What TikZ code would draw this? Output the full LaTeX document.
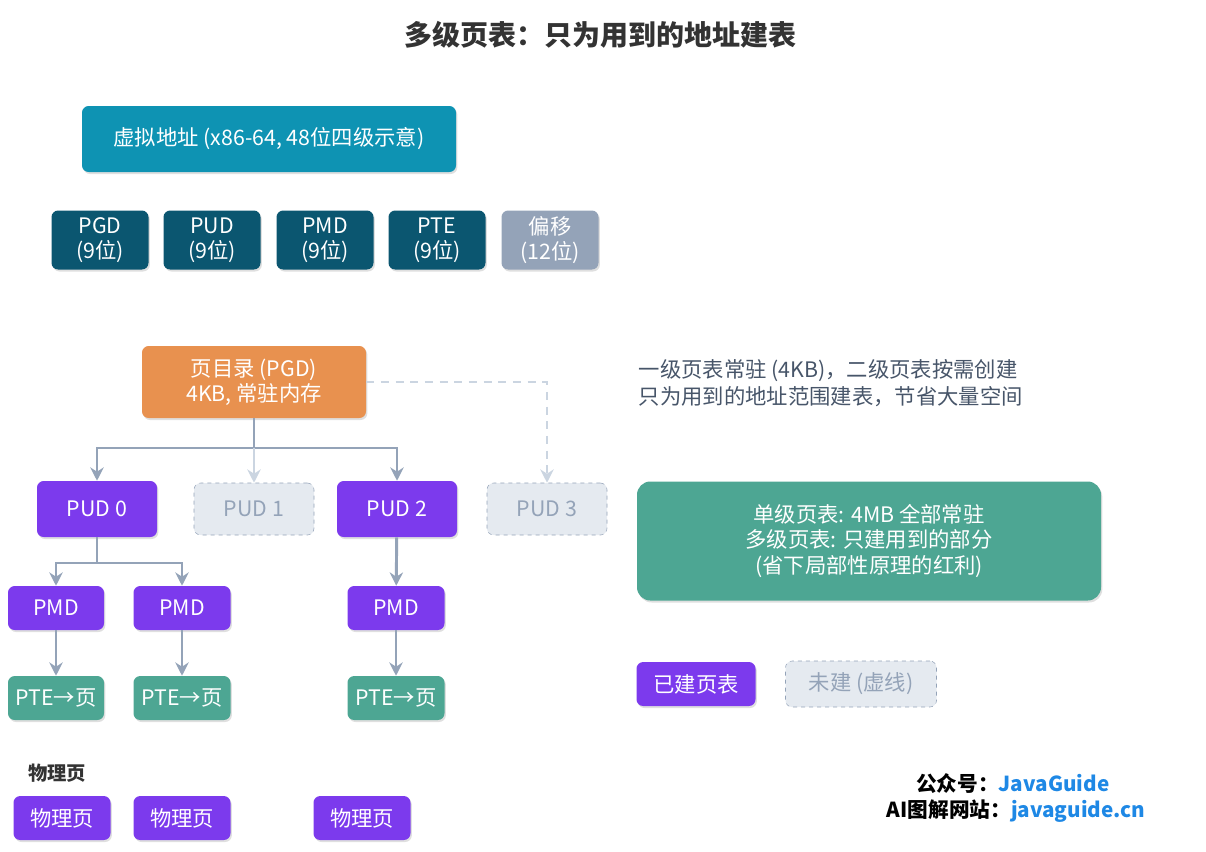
\documentclass[tikz,border=0pt]{standalone}
\usepackage{fontspec}
\setmainfont{Noto Sans CJK SC}
\usetikzlibrary{arrows.meta,shadows}
\definecolor{teal1}{HTML}{0E93B3}
\definecolor{dark}{HTML}{0B5670}
\definecolor{gr}{HTML}{94A3B8}
\definecolor{org}{HTML}{E8914F}
\definecolor{pur}{HTML}{7C3AED}
\definecolor{grn}{HTML}{4DA693}
\definecolor{ln}{HTML}{94A3B8}
\definecolor{lt}{HTML}{CBD5E1}
\definecolor{txt}{HTML}{475569}
\definecolor{blu}{HTML}{1E88E5}
\begin{document}
\begin{tikzpicture}[x=0.75pt,y=-0.75pt,
 box/.style={rounded corners=5pt,text=white,align=center,font=\fontsize{16}{19}\selectfont,drop shadow={opacity=0.25,shadow xshift=1pt,shadow yshift=-1.5pt}},
 dbox/.style={rounded corners=5pt,draw=ln,dashed,fill=lt!50,text=gr,align=center,font=\fontsize{16}{19}\selectfont},
 arr/.style={draw=ln,line width=2.2pt,-{Stealth[length=10pt,width=10pt]}},
 darr/.style={draw=lt,line width=2.2pt,dash pattern=on 6pt off 5pt,-{Stealth[length=10pt,width=10pt]}}]
\useasboundingbox (0,0) rectangle (1206,851);
\node[font=\fontsize{21}{25}\selectfont\bfseries,text=black!80] (t) at (600,35) {多级页表：只为用到的地址建表};
\newcommand\bx[7]{\node[#1,minimum width=#4*0.75pt,minimum height=#5*0.75pt] (#6) at (#2,#3) {#7};}
\bx{box,fill=teal1}{269}{139}{374}{66}{va}{虚拟地址 (x86-64, 48位四级示意)}
\bx{box,fill=dark}{100}{240}{97}{59}{b1}{PGD\\(9位)}
\bx{box,fill=dark}{212}{240}{97}{59}{b2}{PUD\\(9位)}
\bx{box,fill=dark}{325}{240}{97}{59}{b3}{PMD\\(9位)}
\bx{box,fill=dark}{437}{240}{97}{59}{b4}{PTE\\(9位)}
\bx{box,fill=gr}{550}{240}{97}{59}{b5}{偏移\\(12位)}
\bx{box,fill=org}{254}{382}{224}{72}{pgd}{页目录 (PGD)\\4KB, 常驻内存}
\bx{box,fill=pur}{97}{509}{120}{56}{u0}{PUD 0}
\bx{dbox}{254}{509}{120}{52}{u1}{PUD 1}
\bx{box,fill=pur}{397}{509}{120}{56}{u2}{PUD 2}
\bx{dbox}{547}{509}{120}{52}{u3}{PUD 3}
\bx{box,fill=pur}{56}{608}{96}{44}{m0}{PMD}
\bx{box,fill=pur}{182}{608}{97}{44}{m1}{PMD}
\bx{box,fill=pur}{396}{608}{97}{44}{m2}{PMD}
\bx{box,fill=grn}{56}{698}{96}{44}{p0}{PTE→页}
\bx{box,fill=grn}{182}{698}{97}{44}{p1}{PTE→页}
\bx{box,fill=grn}{396}{698}{97}{44}{p2}{PTE→页}
\node[font=\fontsize{14.5}{17}\selectfont\bfseries,text=black!80] (pl) at (57,773) {物理页};
\bx{box,fill=pur}{62}{818}{97}{44}{f0}{物理页}
\bx{box,fill=pur}{182}{818}{97}{44}{f1}{物理页}
\bx{box,fill=pur}{362}{818}{97}{44}{f2}{物理页}
\coordinate (j) at (254,448);
\draw[draw=ln,line width=2.2pt] (pgd.south) -- (j);
\draw[arr] (j) -| (u0.north);
\draw[arr] (j) -| (u2.north);
\draw[draw=lt,line width=2.2pt,-{Stealth[length=10pt,width=10pt]}] (j) -- (u1.north);
\draw[darr] (pgd.east) -| (u3.north);
\coordinate (k) at (97,563);
\draw[draw=ln,line width=2.2pt] (u0.south) -- (k);
\draw[arr] (k) -| (m0.north);
\draw[arr] (k) -| (m1.north);
\draw[arr] (u2) -- (m2);
\draw[arr] (m0) -- (p0);
\draw[arr] (m1) -- (p1);
\draw[arr] (m2) -- (p2);
\node[anchor=west,text=txt,align=left,font=\fontsize{16}{20.5}\selectfont] (n1) at (634,383) {一级页表常驻 (4KB)，二级页表按需创建\\只为用到的地址范围建表，节省大量空间};
\bx{box,fill=grn,rounded corners=10pt}{869}{541}{464}{119}{g}{单级页表: 4MB 全部常驻\\多级页表: 只建用到的部分\\(省下局部性原理的红利)}
\bx{box,fill=pur}{696}{684}{119}{44}{l1}{已建页表}
\bx{dbox}{861}{684}{151}{46}{l2}{未建 (虚线)}
\node[anchor=east,font=\fontsize{15.5}{18}\selectfont\bfseries] (f1) at (1114,784) {公众号：\textcolor{blu}{JavaGuide}};
\node[anchor=east,font=\fontsize{15.5}{18}\selectfont\bfseries] (f2) at (1150,811) {AI图解网站：\textcolor{blu}{javaguide.cn}};
\end{tikzpicture}
\end{document}
